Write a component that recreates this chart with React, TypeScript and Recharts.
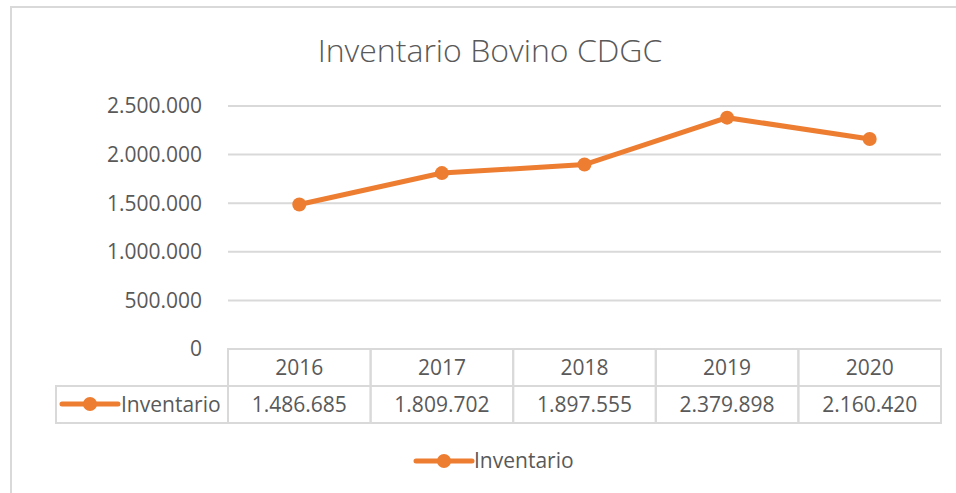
import { Legend, Line, LineChart, CartesianGrid, XAxis, YAxis } from "recharts"

const years = ["2016", "2017", "2018", "2019", "2020"]
const inventario = [1486685, 1809702, 1897555, 2379898, 2160420]
const yTicks = [0, 500000, 1000000, 1500000, 2000000, 2500000]

const data = years.map((year, i) => ({ year, inventario: inventario[i] }))

const ORANGE = "#ED7D31"
const GRID = "#d9d9d9"
const TEXT = "#595959"
const FONT = "'Open Sans', sans-serif"
const CELL_W = 142.6
const ROW_H = 37

function fmt(v: number) {
	return String(v).replace(/\B(?=(\d{3})+(?!\d))/g, ".")
}

function SeriesMarker({ x, y }: { x: number; y: number }) {
	return (
		<g>
			<line x1={x} y1={y} x2={x + 56} y2={y} stroke={ORANGE} strokeWidth={5} strokeLinecap="round" />
			<circle cx={x + 28} cy={y} r={7} fill={ORANGE} />
		</g>
	)
}

function TableTick(props: any) {
	const { x, y, payload } = props
	const i = payload.index
	const left = x - CELL_W / 2
	return (
		<g fontFamily={FONT} fontSize={21} fill={TEXT}>
			<rect x={left} y={y} width={CELL_W} height={ROW_H} fill="none" stroke={GRID} strokeWidth={2} />
			<text x={x} y={y + 26} textAnchor="middle" fill={TEXT}>
				{years[i]}
			</text>
			<rect x={left} y={y + ROW_H} width={CELL_W} height={ROW_H} fill="none" stroke={GRID} strokeWidth={2} />
			<text x={x} y={y + ROW_H + 26} textAnchor="middle" fill={TEXT}>
				{fmt(inventario[i])}
			</text>
			{i === 0 && (
				<g>
					<rect x={56} y={y + ROW_H} width={left - 56} height={ROW_H} fill="none" stroke={GRID} strokeWidth={2} />
					<SeriesMarker x={62} y={y + ROW_H + 18} />
					<text x={121} y={y + ROW_H + 26} fill={TEXT}>
						Inventario
					</text>
				</g>
			)}
		</g>
	)
}

function BottomLegend() {
	return (
		<svg width={200} height={30}>
			<SeriesMarker x={4} y={15} />
			<text x={62} y={22} fontFamily={FONT} fontSize={21} fill={TEXT}>
				Inventario
			</text>
		</svg>
	)
}

export default function App() {
	return (
		<div style={{ position: "absolute", left: 0, top: 0, width: 956, height: 493, overflow: "hidden", background: "#fff" }}>
			<div
				style={{
					position: "absolute",
					left: 10,
					top: 6,
					width: 1000,
					height: 600,
					borderLeft: `2px solid ${GRID}`,
					borderTop: `2px solid ${GRID}`,
				}}
			/>
			<div
				style={{
					position: "absolute",
					left: 0,
					top: 28,
					width: 980,
					textAlign: "center",
					fontFamily: FONT,
					fontSize: 32,
					fontWeight: 300,
					color: TEXT,
				}}
			>
				Inventario Bovino CDGC
			</div>
			<div style={{ position: "absolute", left: 0, top: 0 }}>
				<LineChart width={956} height={493} data={data} margin={{ top: 106, right: 15, left: 0, bottom: 70 }}>
					<CartesianGrid vertical={false} stroke={GRID} strokeWidth={2} />
					<XAxis
						dataKey="year"
						height={74}
						padding={{ left: CELL_W / 2, right: CELL_W / 2 }}
						axisLine={false}
						tickLine={false}
						tickSize={0}
						tickMargin={0}
						interval={0}
						tick={<TableTick />}
					/>
					<YAxis
						width={228}
						domain={[0, 2500000]}
						ticks={yTicks}
						axisLine={false}
						tickLine={false}
						tickMargin={20}
						tickFormatter={fmt}
						tick={{ fill: TEXT, fontFamily: FONT, fontSize: 21 }}
					/>
					<Legend
						layout="horizontal"
						verticalAlign="middle"
						content={<BottomLegend />}
						wrapperStyle={{ top: 446, left: 412, width: 200 }}
					/>
					<Line
						type="linear"
						dataKey="inventario"
						name="Inventario"
						stroke={ORANGE}
						strokeWidth={5}
						dot={{ r: 7, fill: ORANGE, stroke: ORANGE, strokeWidth: 0 }}
						isAnimationActive={false}
					/>
				</LineChart>
			</div>
		</div>
	)
}
